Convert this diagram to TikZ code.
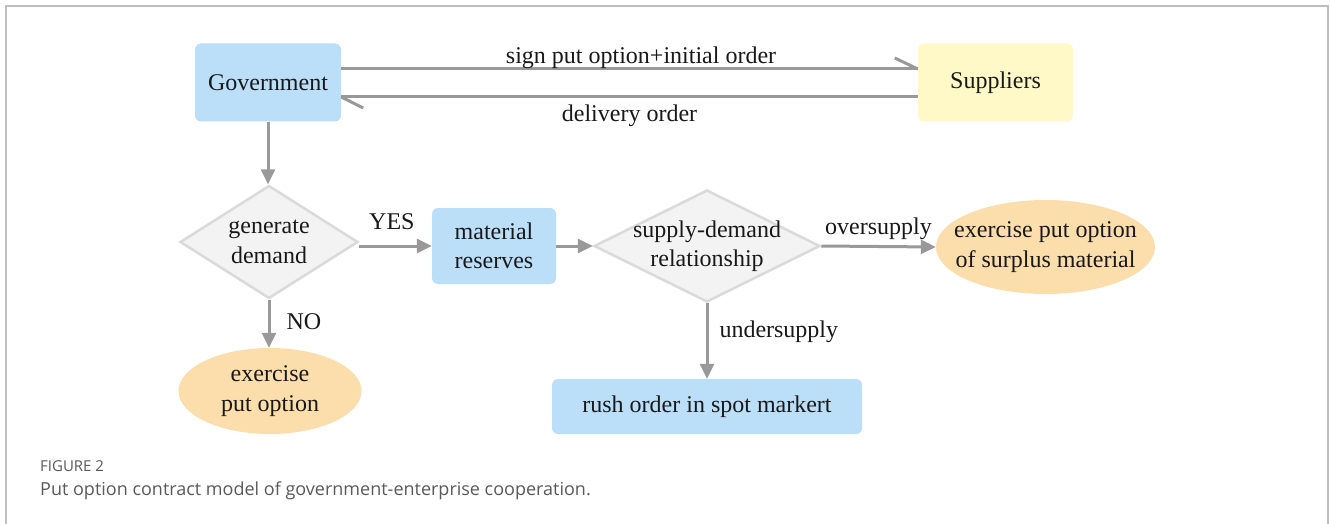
\documentclass[tikz,border=0pt]{standalone}
\usepackage{fontspec}
\setmainfont{Liberation Serif}
\newfontfamily\capfont{Open Sans}
\usetikzlibrary{shapes.geometric,arrows.meta}
\definecolor{boxblue}{RGB}{187,222,249}
\definecolor{boxyellow}{RGB}{255,248,199}
\definecolor{ellorange}{RGB}{252,221,172}
\definecolor{diafill}{RGB}{243,243,243}
\definecolor{diaborder}{RGB}{218,218,218}
\definecolor{linegrey}{RGB}{153,153,153}
\definecolor{framegrey}{RGB}{190,190,190}
\definecolor{capgrey}{RGB}{90,90,90}
\tikzset{
  txt/.style={font=\fontsize{24}{29.5}\selectfont, align=center, text=black!90},
  bluebox/.style={txt, rectangle, rounded corners=6pt, fill=boxblue, draw=none, inner sep=0pt},
  yellowbox/.style={txt, rectangle, rounded corners=6pt, fill=boxyellow, draw=none, inner sep=0pt},
  decision/.style={txt, diamond, fill=diafill, draw=diaborder, line width=2.5pt, inner xsep=-45pt, inner ysep=-25pt},
  outcome/.style={txt, ellipse, fill=ellorange, draw=none, inner xsep=-30pt, inner ysep=-20pt},
  conn/.style={draw=linegrey, line width=3pt},
  flow/.style={conn, -{Triangle[length=15pt,width=14pt]}},
  lbl/.style={font=\fontsize{24}{29.5}\selectfont, text=black!90, inner sep=0pt},
}
\begin{document}
\begin{tikzpicture}[x=1pt,y=-1pt]
\useasboundingbox (0,0) rectangle (1330,524);
\fill[white] (0,0) rectangle (1330,524);
\draw[framegrey, line width=1.5pt] (6,530) -- (6,6) -- (1328,6) -- (1328,530);

% nodes
\node[bluebox, minimum width=146pt, minimum height=78pt] (gov) at (268,82.5) {Government};
\node[yellowbox, minimum width=155pt, minimum height=78pt] (sup) at (995.5,82.5) {Suppliers};
\node[decision, minimum width=178pt, minimum height=113pt] (gen) at (269,242) {generate\\demand};
\node[bluebox, minimum width=124pt, minimum height=76pt] (mat) at (494,246) {material\\reserves};
\node[decision, minimum width=226pt, minimum height=112pt] (sd) at (707,246) {supply-demand\\relationship};
\node[outcome, minimum width=219pt, minimum height=94pt] (ex2) at (1045.5,247) {exercise put option\\of surplus material};
\node[bluebox, minimum width=310pt, minimum height=55pt] (rush) at (707,406.5) {rush order in spot markert};
\node[outcome, minimum width=183pt, minimum height=86pt] (ex1) at (270,391) {exercise\\put option};

% top two-way connectors
\coordinate (g1) at (gov.east |- 0,69);
\coordinate (s1) at (sup.west |- 0,69);
\coordinate (s2) at (sup.west |- 0,97);
\coordinate (g2) at (gov.east |- 0,97);
\draw[conn] (g1) -- node[lbl, anchor=base, yshift=5pt, pos=0.52] {sign put option+initial order} (s1);
\draw[conn] (s1) -- ++(-23,-11);
\draw[conn] (s2) -- node[lbl, below=6pt, pos=0.5] {delivery order} (g2);
\draw[conn] (g2) -- ++(22,11);

% flow connectors
\draw[flow] (gov.south) -- (gov.south |- gen.north);
\draw[flow] (gen.east |- mat.west) -- node[lbl, above=15pt, pos=0.45] {YES} (mat.west);
\draw[flow] (mat.east) -- (sd.west);
\draw[flow] (sd.east) -- node[lbl, above=5pt, pos=0.5] {oversupply} (ex2.west);
\draw[flow] (sd.south) -- node[lbl, right=11pt, pos=0.38] {undersupply} (rush.north);
\draw[flow] (gen.south) -- node[lbl, right=16pt, pos=0.45] {NO} (gen.south |- ex1.north);

% caption
\node[anchor=west, inner sep=0pt, text=capgrey, font=\capfont\fontsize{15}{18}\selectfont] (figlbl) at (40,466) {FIGURE 2};
\node[anchor=west, inner sep=0pt, text=capgrey, font=\capfont\fontsize{18}{21}\selectfont] (cap) at (40,491) {Put option contract model of government-enterprise cooperation.};
\end{tikzpicture}
\end{document}
